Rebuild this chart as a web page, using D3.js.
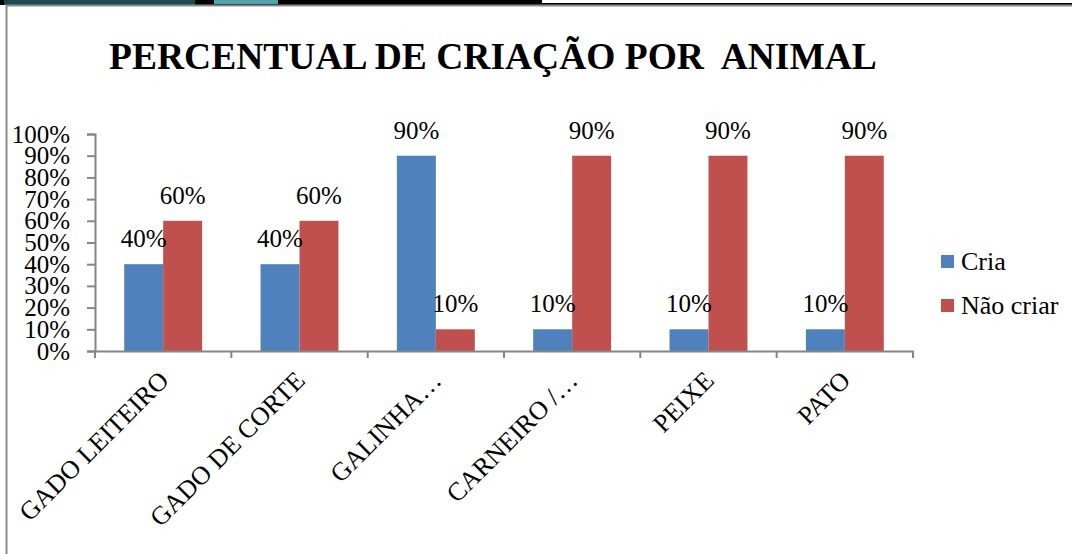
<!DOCTYPE html>
<html>
<head>
<meta charset="utf-8">
<script src="https://cdn.jsdelivr.net/npm/d3@7"></script>
<style>
  body { margin: 0; background: #fff; }
  svg { display: block; }
</style>
</head>
<body>
<svg id="chart" width="1072" height="554"></svg>
<script>
var categories = ["GADO LEITEIRO", "GADO DE CORTE", "GALINHA…", "CARNEIRO /…", "PEIXE", "PATO"];
var cria = [0.4, 0.4, 0.9, 0.1, 0.1, 0.1];
var naoCriar = [0.6, 0.6, 0.1, 0.9, 0.9, 0.9];
var seriesNames = ["Cria", "Não criar"];
var colors = ["#4f81bd", "#c0504d"];
var yTicks = d3.range(0, 1.01, 0.1);

var svg = d3.select("#chart"),
    width = +svg.attr("width"),
    height = +svg.attr("height");

var serif = "'Liberation Serif', 'Times New Roman', serif";

// screenshot strip at the top
var strip = svg.append("g");
strip.append("rect").attr("x", 0).attr("y", 0).attr("width", width).attr("height", 5).attr("fill", "#000");
strip.append("rect").attr("x", 4).attr("y", 0).attr("width", 191).attr("height", 5).attr("fill", "#1d4a4e");
strip.append("rect").attr("x", 214).attr("y", 0).attr("width", 64).attr("height", 4).attr("fill", "#4fa3ad");
strip.append("rect").attr("x", 542).attr("y", 0).attr("width", width - 542).attr("height", 3).attr("fill", "#fff");

// chart frame
svg.append("path")
    .attr("d", "M6.5," + height + "V5.5H" + width)
    .attr("fill", "none").attr("stroke", "#8c8c8c").attr("stroke-width", 2);

svg.append("text")
    .attr("x", 493).attr("y", 69)
    .attr("text-anchor", "middle")
    .attr("xml:space", "preserve")
    .style("font-family", serif).style("font-weight", "bold").style("font-size", "37.5px")
    .text("PERCENTUAL DE CRIAÇÃO POR  ANIMAL");

var x0 = d3.scaleBand().domain(categories).range([95, 913]).paddingInner(0).paddingOuter(0);
var x1 = d3.scaleBand().domain(seriesNames).range([0, x0.bandwidth()]).paddingInner(0).paddingOuter(0.75);
var y = d3.scaleLinear().domain([0, 1]).range([351, 134]);

// y axis
var yAxis = svg.append("g")
    .attr("transform", "translate(95,0)")
    .call(d3.axisLeft(y).tickValues(yTicks).tickFormat(d3.format(".0%")).tickSize(8).tickPadding(17));
yAxis.select(".domain").attr("stroke", "#868686").attr("stroke-width", 2);
yAxis.selectAll(".tick line").attr("stroke", "#868686").attr("stroke-width", 2);
yAxis.selectAll(".tick text")
    .style("font-family", serif).style("font-size", "25px").attr("fill", "#000");

// bars
var data = categories.map(function(c, i) { return { cat: c, vals: [cria[i], naoCriar[i]] }; });
var groups = svg.append("g").selectAll("g")
    .data(data).enter().append("g")
    .attr("transform", function(d) { return "translate(" + x0(d.cat) + ",0)"; });

groups.selectAll("rect")
    .data(function(d) { return d.vals.map(function(v, j) { return { s: seriesNames[j], v: v, j: j }; }); })
    .enter().append("rect")
    .attr("x", function(d) { return x1(d.s); })
    .attr("y", function(d) { return y(d.v); })
    .attr("width", x1.bandwidth())
    .attr("height", function(d) { return y(0) - y(d.v); })
    .attr("fill", function(d) { return colors[d.j]; });

groups.selectAll("text")
    .data(function(d) { return d.vals.map(function(v, j) { return { s: seriesNames[j], v: v }; }); })
    .enter().append("text")
    .attr("x", function(d) { return x1(d.s) + x1.bandwidth() / 2; })
    .attr("y", function(d) { return y(d.v) - 17; })
    .attr("text-anchor", "middle")
    .style("font-family", serif).style("font-size", "25px")
    .text(function(d) { return d3.format(".0%")(d.v); });

// x axis
var xAxis = svg.append("g")
    .attr("transform", "translate(0,351)")
    .call(d3.axisBottom(x0).tickSize(0).tickFormat(""));
xAxis.select(".domain").attr("stroke", "#868686").attr("stroke-width", 2);
xAxis.selectAll(".tick").remove();
xAxis.selectAll("line.sep")
    .data(d3.range(categories.length + 1)).enter().append("line")
    .attr("class", "sep")
    .attr("x1", function(i) { return 95 + i * x0.step(); })
    .attr("x2", function(i) { return 95 + i * x0.step(); })
    .attr("y1", 0).attr("y2", 7)
    .attr("stroke", "#868686").attr("stroke-width", 2);

svg.append("g").selectAll("text")
    .data(categories).enter().append("text")
    .attr("transform", function(d) {
      return "translate(" + (x0(d) + x0.bandwidth() / 2 + 7) + ",382) rotate(-45)";
    })
    .attr("text-anchor", "end")
    .style("font-family", serif).style("font-size", "26px")
    .text(function(d) { return d; });

// legend
var legend = svg.append("g").selectAll("g")
    .data(seriesNames).enter().append("g")
    .attr("transform", function(d, i) { return "translate(941," + (255 + i * 44) + ")"; });
legend.append("rect").attr("width", 13).attr("height", 13)
    .attr("fill", function(d, i) { return colors[i]; });
legend.append("text").attr("x", 20).attr("y", 15)
    .style("font-family", serif).style("font-size", "26px")
    .text(function(d) { return d; });
</script>
</body>
</html>
